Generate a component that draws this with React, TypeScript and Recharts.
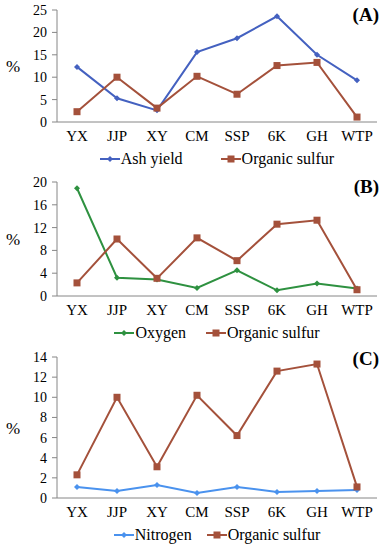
import { LineChart, Line, XAxis, YAxis, Legend } from 'recharts';

const sites = ['YX', 'JJP', 'XY', 'CM', 'SSP', '6K', 'GH', 'WTP'];
const ashYield = [12.3, 5.3, 2.6, 15.6, 18.7, 23.6, 15.0, 9.3];
const organicSulfur = [2.3, 10.0, 3.1, 10.2, 6.2, 12.6, 13.3, 1.1];
const oxygen = [18.9, 3.2, 2.9, 1.4, 4.5, 1.0, 2.2, 1.3];
const nitrogen = [1.1, 0.7, 1.3, 0.5, 1.1, 0.6, 0.7, 0.8];

const ticksA = [0, 5, 10, 15, 20, 25];
const ticksB = [0, 4, 8, 12, 16, 20];
const ticksC = [0, 2, 4, 6, 8, 10, 12, 14];

const FONT = '"Liberation Serif", "DejaVu Serif", serif';
const SULFUR = '#A4513B';

const Square = (props: any) => {
    const { cx, cy, fill } = props;
    if (cx == null || cy == null) return null;
    return <rect x={cx - 3.5} y={cy - 3.5} width={7} height={7} fill={fill} />;
};

const Diamond = (props: any) => {
    const { cx, cy, fill } = props;
    if (cx == null || cy == null) return null;
    return <path d={`M${cx},${cy - 3} L${cx + 3},${cy} L${cx},${cy + 3} L${cx - 3},${cy} Z`} fill={fill} />;
};

const LegendContent = ({ items, gap }: { items: { name: string; color: string; marker: string }[]; gap: number }) => (
    <div style={{ display: 'flex', justifyContent: 'center', gap, paddingLeft: 57, paddingTop: 4, fontFamily: FONT, fontSize: 16, color: '#000' }}>
        {items.map(it => (
            <span key={it.name} style={{ display: 'flex', alignItems: 'center' }}>
                <svg width={20} height={10} style={{ marginRight: 1 }}>
                    <line x1={0} y1={5} x2={20} y2={5} stroke={it.color} strokeWidth={2} />
                    {it.marker === 'square'
                        ? <rect x={6.5} y={1.5} width={7} height={7} fill={it.color} />
                        : <path d="M10,2 L13,5 L10,8 L7,5 Z" fill={it.color} />}
                </svg>
                {it.name}
            </span>
        ))}
    </div>
);

function Panel({ values, name, color, ticks, max, height, top, bottom, tag, gap }: any) {
    const data = sites.map((s, i) => ({ site: s, main: values[i], sulfur: organicSulfur[i] }));
    const legendItems = [
        { name, color, marker: 'diamond' },
        { name: 'Organic sulfur', color: SULFUR, marker: 'square' },
    ];
    return (
        <div style={{ position: 'relative', width: 387, height }}>
            <LineChart width={387} height={height} data={data} margin={{ top, right: 10, left: 0, bottom }}>
                <XAxis
                    dataKey="site"
                    height={24}
                    tickLine={false}
                    padding={{ left: 20, right: 20 }}
                    interval={0}
                    stroke="#868686"
                    tick={{ fill: '#000', fontSize: 15, fontFamily: FONT }}
                />
                <YAxis
                    width={57}
                    domain={[0, max]}
                    ticks={ticks}
                    interval={0}
                    stroke="#868686"
                    tickSize={5}
                    tickMargin={5}
                    tick={{ fill: '#000', fontSize: 14, fontFamily: FONT }}
                    label={{ value: '%', position: 'insideLeft', angle: 0, offset: 6, fill: '#000', fontSize: 17, fontFamily: FONT }}
                />
                <Legend verticalAlign="bottom" height={22} content={() => <LegendContent items={legendItems} gap={gap} />} />
                <Line dataKey="main" name={name} stroke={color} strokeWidth={2} dot={<Diamond />} fill={color} isAnimationActive={false} />
                <Line dataKey="sulfur" name="Organic sulfur" stroke={SULFUR} strokeWidth={2} dot={<Square />} fill={SULFUR} isAnimationActive={false} />
            </LineChart>
            <div style={{ position: 'absolute', right: 8, top: 4, fontFamily: FONT, fontWeight: 'bold', fontSize: 19 }}>{tag}</div>
        </div>
    );
}

export default function App() {
    return (
        <div style={{ position: 'absolute', left: 0, top: 0, width: 387, height: 550, background: '#fff' }}>
            <Panel values={ashYield} name="Ash yield" color="#4461C0" ticks={ticksA} max={25} height={172} top={10} bottom={4} tag="(A)" gap={38} />
            <Panel values={oxygen} name="Oxygen" color="#2E9140" ticks={ticksB} max={20} height={172} top={10} bottom={2} tag="(B)" gap={20} />
            <Panel values={nitrogen} name="Nitrogen" color="#4A92EE" ticks={ticksC} max={14} height={206} top={13} bottom={6} tag="(C)" gap={15} />
        </div>
    );
}
